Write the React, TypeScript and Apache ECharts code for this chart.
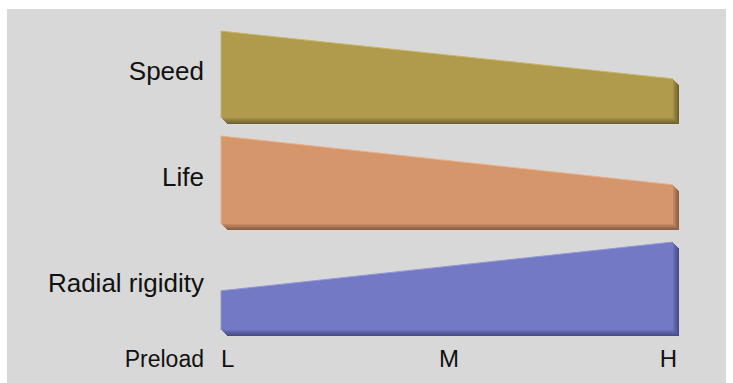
import React, { useEffect, useRef } from "react";
import * as echarts from "echarts";

const categories = ["L", "M", "H"];
const bandNames = ["Speed", "Life", "Radial rigidity"];
const bandBases = [20, 10, 0];
const speed = [8.2, 5.95, 3.7];
const life = [8.3, 6.0, 3.7];
const radial = [3.7, 6.0, 8.3];
const bandValues = [speed, life, radial];
const faceColors = ["#b09b4d", "#d4966a", "#7479c5"];
const edgeColors = ["#6f6230", "#8a5f42", "#484c86"];
const lightColors = ["#c9b56a", "#e8b08a", "#9196d8"];
const axisTitle = "Preload";

function mix(a: string, b: string, t: number) {
  const pa = [1, 3, 5].map((i) => parseInt(a.slice(i, i + 2), 16));
  const pb = [1, 3, 5].map((i) => parseInt(b.slice(i, i + 2), 16));
  const c = pa.map((v, i) => Math.round(v + (pb[i] - v) * t));
  return "rgb(" + c.join(",") + ")";
}

export default function App() {
  const ref = useRef<HTMLDivElement>(null);
  useEffect(() => {
    if (!ref.current) return;
    const chart = echarts.init(ref.current, null, { renderer: "svg" });
    const font = "Liberation Sans, Arial, Helvetica, sans-serif";
    const depth = 6;
    const series = bandValues.map((vals, b) => ({
      type: "custom",
      name: bandNames[b],
      clip: false,
      data: vals.map((v, i) => [i, bandBases[b] + v]),
      renderItem: (params: any, api: any) => {
        if (params.dataIndex !== 0) return null;
        const base = bandBases[b];
        const top = vals.map((v, i) => api.coord([i, base + v]));
        const bl = api.coord([0, base]);
        const br = api.coord([vals.length - 1, base]);
        const face = [...top, br, bl];
        const children: any[] = [];
        for (let k = depth; k >= 1; k--) {
          const t = (k - 1) / (depth - 1);
          children.push({
            type: "polygon",
            shape: { points: face.map((p) => [p[0] + k, p[1] + k]) },
            style: { fill: mix(faceColors[b], edgeColors[b], 0.25 + 0.75 * t) },
          });
        }
        children.push({
          type: "polygon",
          shape: { points: face },
          style: { fill: faceColors[b] },
        });
        children.push({
          type: "polyline",
          shape: { points: [bl, ...top] },
          style: { stroke: lightColors[b], lineWidth: 1, fill: "none" },
        });
        return { type: "group", children };
      },
    }));
    chart.setOption({
      animation: false,
      backgroundColor: "#d8d8d8",
      grid: { left: 214, right: 53, top: 3, bottom: 53 },
      xAxis: {
        type: "category",
        data: categories,
        boundaryGap: false,
        axisLine: { show: false },
        axisTick: { show: false },
        splitLine: { show: false },
        axisLabel: {
          fontSize: 24,
          color: "#111",
          fontFamily: font,
          margin: 16,
          alignMinLabel: "left",
          alignMaxLabel: "right",
          padding: [0, -4, 0, 0],
        },
        name: axisTitle,
        nameLocation: "start",
        nameGap: 17,
        nameTextStyle: {
          fontSize: 23,
          color: "#111",
          fontFamily: font,
          align: "right",
          verticalAlign: "top",
          padding: [17, 0, 0, 0],
        },
      },
      yAxis: {
        type: "value",
        min: 0,
        max: 30,
        axisLine: { show: false },
        axisTick: { show: false },
        splitLine: { show: false },
        axisLabel: {
          customValues: bandBases.map((v) => v + 4.4),
          formatter: (value: number) => bandNames[bandBases.indexOf(Math.floor(value / 10) * 10)] ?? "",
          fontSize: 26,
          color: "#111",
          fontFamily: font,
          margin: 17,
        },
      },
      series,
    });
    return () => chart.dispose();
  }, []);
  return (
    <div style={{ position: "absolute", left: 0, top: 0, width: 733, height: 383, background: "#fff" }}>
      <div ref={ref} style={{ position: "absolute", left: 7, top: 9, width: 719, height: 374 }} />
    </div>
  );
}
